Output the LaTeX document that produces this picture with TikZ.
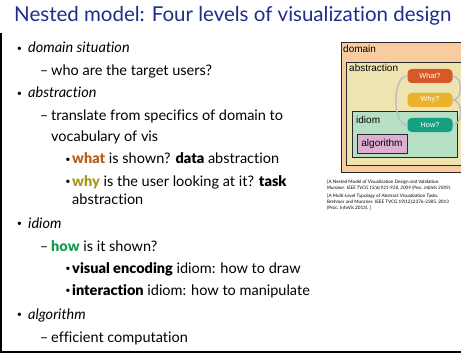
\documentclass[tikz,border=0pt]{standalone}
\usepackage{fontspec}
\setmainfont{Lato}[Ligatures=NoCommon, BoldFont={Lato Black}]
\newfontfamily\boxfont{Liberation Sans}
\usepackage{xcolor}
\usetikzlibrary{positioning}

\definecolor{titleblue}{RGB}{30,44,140}
\definecolor{whatcol}{RGB}{184,96,26}
\definecolor{whycol}{RGB}{168,152,24}
\definecolor{howcol}{RGB}{22,156,80}
\definecolor{domainfill}{RGB}{249,204,160}
\definecolor{abstrfill}{RGB}{237,228,178}
\definecolor{idiomfill}{RGB}{181,224,196}
\definecolor{algofill}{RGB}{220,174,208}
\definecolor{whatfill}{RGB}{216,88,42}
\definecolor{whyfill}{RGB}{236,178,42}
\definecolor{howfill}{RGB}{22,160,130}
\definecolor{arcgray}{RGB}{186,186,196}
\definecolor{boxedge}{RGB}{40,40,40}

\newcommand{\mrk}[2]{\llap{#1\hspace{#2}}}
\newcommand{\itemdot}{\raisebox{1.5pt}{\fontsize{9}{9}\selectfont\textbullet}}
\pgfdeclarelayer{front}
\pgfsetlayers{main,front}

\begin{document}
\begin{tikzpicture}[x=1pt, y=-1pt,
  every node/.style={inner sep=0pt},
  line/.style={anchor=base west, font=\fontsize{14.5}{17}\selectfont},
  cite/.style={anchor=base west, font=\fontsize{4.6}{5}\selectfont},
  box/.style={draw=boxedge, line width=0.9pt},
  boxlbl/.style={anchor=base west, font=\boxfont\fontsize{10}{11}\selectfont},
  pill/.style={rounded corners=4pt, minimum width=45pt, minimum height=14pt,
    text=white, font=\boxfont\fontsize{7.3}{8}\selectfont},
  loop/.style={draw=arcgray, line width=1.3pt}]
  \useasboundingbox (0,0) rectangle (461,353);
  \clip (0,0) rectangle (461,353);
  % Frame
  \draw[line width=1.1pt] (1,33) -- (1,352) -- (462,352);
  % Title
  \node[anchor=base west, text=titleblue, font=\fontsize{20.5}{24}\selectfont]
    (title) at (14,22) {Nested model: Four levels of visualization design};
  % Bullet list
  \node[line] (dom) at (28,53) {\mrk{\itemdot}{6pt}\textit{domain situation}};
  \node[line] (domq) at (51,76) {\mrk{--}{3pt}who are the target users?};
  \node[line] (abs) at (28,98) {\mrk{\itemdot}{6pt}\textit{abstraction}};
  \node[line] (absa) at (51,121) {\mrk{--}{3pt}translate from specifics of domain to};
  \node[line] (absb) at (51,141) {vocabulary of vis};
  \node[line] (what) at (72,164) {\mrk{\itemdot}{1.5pt}\textbf{\color{whatcol}what} is shown? \textbf{data} abstraction};
  \node[line] (why) at (72,186) {\mrk{\itemdot}{1.5pt}\textbf{\color{whycol}why} is the user looking at it? \textbf{task}};
  \node[line] (whyb) at (72,204) {abstraction};
  \node[line] (idm) at (28,228) {\mrk{\itemdot}{6pt}\textit{idiom}};
  \node[line] (how) at (51,251) {\mrk{--}{3pt}\textbf{\color{howcol}how} is it shown?};
  \node[line] (enc) at (72,273) {\mrk{\itemdot}{1.5pt}\textbf{visual encoding} idiom: how to draw};
  \node[line] (int) at (72,295) {\mrk{\itemdot}{1.5pt}\textbf{interaction} idiom: how to manipulate};
  \node[line] (alg) at (28,319) {\mrk{\itemdot}{6pt}\textit{algorithm}};
  \node[line] (algq) at (51,342) {\mrk{--}{3pt}efficient computation};
  % Nested boxes
  \begin{scope}[shift={(340,42)}]
    \draw[box, fill=domainfill] (1,0) rectangle (135,130);
    \node[boxlbl] (domlbl) at (3,11) {domain};
    \draw[box, fill=abstrfill] (6,20) rectangle (135,123);
    \node[boxlbl] (abslbl) at (9,30) {abstraction};
    \draw[box, fill=idiomfill] (12,69) rectangle (117,115);
    \node[boxlbl] (idmlbl) at (16,82) {idiom};
    \draw[box, fill=algofill] (17,92) rectangle (67,111);
    \node[font=\boxfont\fontsize{10}{11}\selectfont] (alglbl) at (42,101.5) {algorithm};
    \begin{pgfonlayer}{front}
      \node[pill, fill=whatfill] (whatp) at (90,34) {What?};
      \node[pill, fill=whyfill] (whyp) at (90,58) {Why?};
      \node[pill, fill=howfill] (howp) at (90,83) {How?};
    \end{pgfonlayer}
    \draw[loop] (whatp.west) to[out=180, in=180, looseness=0.8] (howp.west);
    \draw[loop] (whatp.east) to[out=0, in=0, looseness=1.1] (whyp.east);
    \draw[loop] (whyp.east) to[out=0, in=0, looseness=1.1] (howp.east);
  \end{scope}
  % References
  \node[cite] (ref1) at (327,183.5) {[A Nested Model of Visualization Design and Validation.};
  \node[cite] (ref2) at (327,189.5) {\itshape Munzner.\ \ IEEE TVCG 15(6):921-928, 2009 (Proc. InfoVis 2009).};
  \node[cite] (ref3) at (327,197.5) {[A Multi-Level Typology of Abstract Visualization Tasks.};
  \node[cite] (ref4) at (327,203.5) {Brehmer and Munzner. IEEE TVCG 19(12):2376-2385, 2013};
  \node[cite] (ref5) at (327,209.5) {(Proc. InfoVis 2013). ]};
\end{tikzpicture}
\end{document}
